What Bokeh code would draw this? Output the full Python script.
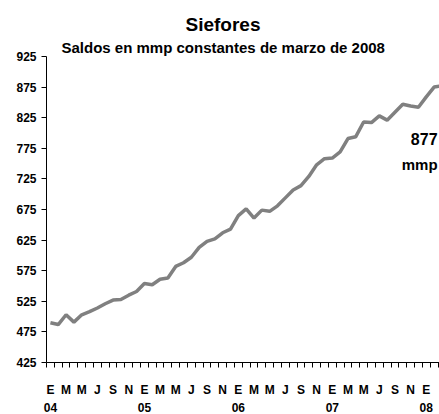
from bokeh.plotting import figure
from bokeh.models import FixedTicker, LinearAxis, Label, Range1d, Title
from bokeh.embed import file_html
from bokeh.resources import INLINE

# Saldos mensuales (mmp constantes de marzo de 2008), enero 2004 - marzo 2008
saldos = [490, 487, 503, 491, 503, 508, 514, 521, 527, 528, 535, 541,
          554, 552, 561, 563, 582, 588, 597, 613, 623, 627, 637, 643,
          665, 676, 661, 674, 672, 681, 694, 707, 714, 729, 748, 758,
          759, 769, 791, 794, 818, 817, 828, 821, 834, 847, 844, 842,
          859, 875, 877]
month_initials = ["E", "F", "M", "A", "M", "J", "J", "A", "S", "O", "N", "D"]
year_labels = ["04", "05", "06", "07", "08"]
y_ticks = [425, 475, 525, 575, 625, 675, 725, 775, 825, 875, 925]
title_text = "Siefores"
subtitle_text = "Saldos en mmp constantes de marzo de 2008"
end_label_value = "877"
end_label_unit = "mmp"

FONT = "Liberation Sans"
months = list(range(len(saldos)))

p = figure(width=439, height=414, output_backend="svg", toolbar_location=None,
           x_range=Range1d(-0.5, 49.69), y_range=Range1d(425, 925),
           min_border_left=46, min_border_right=0, min_border_top=56,
           min_border_bottom=51, x_axis_location=None, title=None)
p.outline_line_color = None
p.grid.visible = False
p.background_fill_color = "white"
p.border_fill_color = "white"

p.line(months, saldos, line_color="#808080", line_width=3.5)

# y axis
ya = p.yaxis[0]
ya.ticker = FixedTicker(ticks=y_ticks)
ya.minor_tick_line_color = None
ya.major_tick_out = 5
ya.major_tick_in = 0
ya.major_label_standoff = 5
ya.major_label_text_font = FONT
ya.major_label_text_font_style = "bold"
ya.major_label_text_font_size = "12px"
ya.major_label_text_color = "black"
ya.axis_line_color = "black"
ya.major_tick_line_color = "black"

# x axis with month letters (ticks at month boundaries)
label_months = [m for m in range(0, 52, 2)]
overrides = {m: month_initials[m % 12] for m in label_months}
xa = LinearAxis(ticker=FixedTicker(ticks=label_months,
                                   minor_ticks=[m - 0.5 for m in range(0, 52)]),
                major_label_overrides=overrides)
xa.major_tick_out = 0
xa.major_tick_in = 0
xa.minor_tick_out = 5
xa.minor_tick_in = 0
xa.major_tick_line_color = None
xa.minor_tick_line_color = "black"
xa.axis_line_color = "black"
xa.major_label_standoff = 15
xa.major_label_text_font = FONT
xa.major_label_text_font_style = "bold"
xa.major_label_text_font_size = "12px"
xa.major_label_text_color = "black"
p.add_layout(xa, "below")

# year axis
year_pos = [0, 12, 24, 36, 48]
ya2 = LinearAxis(ticker=FixedTicker(ticks=year_pos, minor_ticks=[]),
                 major_label_overrides={pos: lab for pos, lab in zip(year_pos, year_labels)})
ya2.axis_line_color = None
ya2.major_tick_line_color = None
ya2.minor_tick_line_color = None
ya2.major_tick_out = 0
ya2.major_tick_in = 0
ya2.major_label_standoff = 3
ya2.major_label_text_font = FONT
ya2.major_label_text_font_style = "bold"
ya2.major_label_text_font_size = "12px"
ya2.major_label_text_color = "black"
p.add_layout(ya2, "below")

# titles (subtitle first: closest to the frame)
p.add_layout(Title(text=subtitle_text, align="left", offset=15, standoff=2,
                   text_font=FONT, text_font_style="bold", text_font_size="15px",
                   text_color="black"), "above")
p.add_layout(Title(text=title_text, align="left", offset=139, standoff=2,
                   text_font=FONT, text_font_style="bold", text_font_size="19px",
                   text_color="black"), "above")

# end label
p.add_layout(Label(x=49.44, y=790, text=end_label_value, text_align="right",
                   text_baseline="alphabetic", text_font=FONT, text_font_style="bold",
                   text_font_size="16px", text_color="black"))
p.add_layout(Label(x=49.44, y=748, text=end_label_unit, text_align="right",
                   text_baseline="alphabetic", text_font=FONT, text_font_style="bold",
                   text_font_size="15px", text_color="black"))

open("out.html", "w").write(file_html(p, INLINE))
